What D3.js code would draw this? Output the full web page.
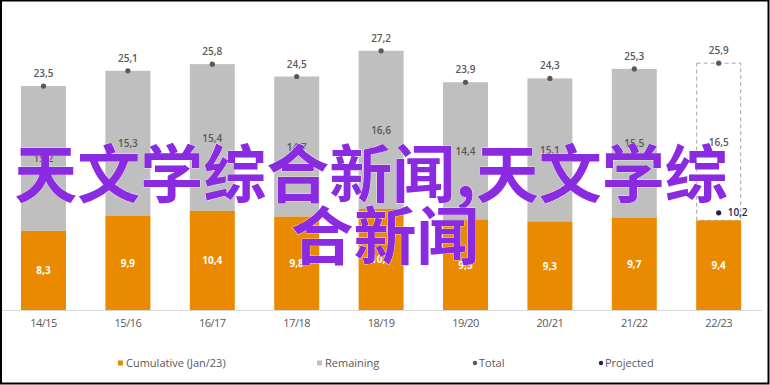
<!DOCTYPE html>
<html>
<head>
<meta charset="utf-8">
<style>
	body { margin: 0; background: #fff; }
	svg { display: block; }
	text { font-family: "Open Sans", sans-serif; }
</style>
</head>
<body>
<svg width="770" height="385"></svg>
<script src="https://cdn.jsdelivr.net/npm/d3@7/dist/d3.min.js"></script>
<script>

var seasons = ['14/15','15/16','16/17','17/18','18/19','19/20','20/21','21/22','22/23']
var cumulative = [8.3, 9.9, 10.4, 9.8, 10.6, 9.5, 9.3, 9.7, 9.4]
var remaining = [15.2, 15.3, 15.4, 14.7, 16.6, 14.4, 15.1, 15.5, 16.5]
var total = [23.5, 25.1, 25.8, 24.5, 27.2, 23.9, 24.3, 25.3, 25.9]
var projected = [null, null, null, null, null, null, null, null, 10.2]
var legendItems = ['Cumulative (Jan/23)', 'Remaining', 'Total', 'Projected']

var width = 770,
	height = 385,
	orange = '#ea8a00',
	grey = '#bfbfbf',
	dark = '#595959',
	navy = '#2a1a5e',
	purple = '#8a2be2'

var svg = d3.select('svg')

var x = d3.scaleBand()
	.domain(seasons)
	.range([1.3, 760.9])
	.paddingInner(0.467)
	.paddingOuter(0.2335)

var y = d3.scaleLinear()
	.domain([0, 30])
	.range([310, 24.1])

var fmt = function(v) { return d3.format('.1f')(v).replace('.', ',') }

var rows = seasons.map(function(s, i) {
	return {season: s, cum: cumulative[i], rem: remaining[i], tot: total[i], proj: projected[i], last: i == seasons.length - 1}
})

// grey / dashed remaining part
svg.selectAll('.rem')
	.data(rows)
	.enter().append('rect')
	.attr('class', 'rem')
	.attr('x', function(d) { return x(d.season) + (d.last ? 0.5 : 0) })
	.attr('width', function(d) { return x.bandwidth() - (d.last ? 1 : 0) })
	.attr('y', function(d) { return y(d.tot) })
	.attr('height', function(d) { return y(d.cum) - y(d.tot) })
	.style('fill', function(d) { return d.last ? '#fff' : grey })
	.style('stroke', function(d) { return d.last ? '#a6a6a6' : 'none' })
	.style('stroke-dasharray', '4,3')

// orange cumulative part
svg.selectAll('.cum')
	.data(rows)
	.enter().append('rect')
	.attr('class', 'cum')
	.attr('x', function(d) { return x(d.season) })
	.attr('width', x.bandwidth())
	.attr('y', function(d) { return y(d.cum) })
	.attr('height', function(d) { return y(0) - y(d.cum) })
	.style('fill', orange)

// axis
var xAxis = svg.append('g')
	.attr('transform', 'translate(0,' + y(0) + ')')
	.call(d3.axisBottom(x).tickSize(0).tickPadding(9))
xAxis.select('.domain').attr('d', 'M0,0.5H762').style('stroke', '#d9d9d9')
xAxis.selectAll('text')
	.style('font-family', '"Open Sans", sans-serif')
	.style('font-size', '11px')
	.style('fill', dark)
	.style('letter-spacing', '-0.5px')

// labels inside bars
svg.selectAll('.cumLabel')
	.data(rows)
	.enter().append('text')
	.attr('x', function(d) { return x(d.season) + x.bandwidth() / 2 })
	.attr('y', function(d) { return (y(0) + y(d.cum)) / 2 + 4 })
	.attr('text-anchor', 'middle')
	.style('font-size', '10px')
	.style('font-weight', 700)
	.style('fill', '#fff')
	.text(function(d) { return fmt(d.cum) })

svg.selectAll('.remLabel')
	.data(rows)
	.enter().append('text')
	.attr('x', function(d) { return x(d.season) + x.bandwidth() / 2 })
	.attr('y', function(d) { return (y(d.cum) + y(d.tot)) / 2 + 4 })
	.attr('text-anchor', 'middle')
	.style('font-size', '10px')
	.style('font-weight', 600)
	.style('fill', dark)
	.text(function(d) { return fmt(d.rem) })

// totals
svg.selectAll('.totDot')
	.data(rows)
	.enter().append('circle')
	.attr('cx', function(d) { return x(d.season) + x.bandwidth() / 2 })
	.attr('cy', function(d) { return y(d.tot) })
	.attr('r', 2.6)
	.style('fill', dark)

svg.selectAll('.totLabel')
	.data(rows)
	.enter().append('text')
	.attr('x', function(d) { return x(d.season) + x.bandwidth() / 2 })
	.attr('y', function(d) { return y(d.tot) - 9 })
	.attr('text-anchor', 'middle')
	.style('font-size', '10px')
	.style('font-weight', 600)
	.style('fill', dark)
	.text(function(d) { return fmt(d.tot) })

// projected
var proj = rows.filter(function(d) { return d.proj != null })
svg.selectAll('.projDot')
	.data(proj)
	.enter().append('circle')
	.attr('cx', function(d) { return x(d.season) + x.bandwidth() / 2 })
	.attr('cy', function(d) { return y(d.proj) })
	.attr('r', 2.6)
	.style('fill', navy)

svg.selectAll('.projLabel')
	.data(proj)
	.enter().append('text')
	.attr('x', function(d) { return x(d.season) + x.bandwidth() / 2 + 9 })
	.attr('y', function(d) { return y(d.proj) + 3.5 })
	.style('font-size', '10px')
	.style('font-weight', 600)
	.style('fill', navy)
	.text(function(d) { return fmt(d.proj) })

// legend
var legendX = [118, 317, 473, 599]
var legend = svg.selectAll('.legend')
	.data(legendItems)
	.enter().append('g')
	.attr('transform', function(d, i) { return 'translate(' + legendX[i] + ',363)' })

legend.each(function(d, i) {
	var g = d3.select(this)
	if (i < 2) {
		g.append('rect').attr('x', 0).attr('y', -2.5).attr('width', 5).attr('height', 5)
			.style('fill', [orange, grey][i])
	} else {
		g.append('circle').attr('cx', 2).attr('cy', 0).attr('r', 2.2)
			.style('fill', [dark, navy][i - 2])
	}
	g.append('text').attr('x', i < 2 ? 8 : 6).attr('y', 4)
		.style('font-size', '11px')
		.style('fill', dark)
		.text(d)
})

// overlay text
var overlay = svg.append('g')
	.style('font-size', '63px')
	.style('font-weight', 700)
	.style('fill', purple)
	.style('stroke', '#fff')
	.style('stroke-width', 0.6)
	.style('paint-order', 'stroke')
overlay.append('text').attr('x', 371).attr('y', 197).attr('text-anchor', 'middle')
	.style('font-family', '"Noto Sans CJK SC", sans-serif')
	.text('天文学综合新闻,天文学综')
overlay.append('text').attr('x', 385).attr('y', 259).attr('text-anchor', 'middle')
	.style('font-family', '"Noto Sans CJK SC", sans-serif')
	.text('合新闻')

// frame
svg.append('rect')
	.attr('x', 1).attr('y', 0.5)
	.attr('width', width - 2.5).attr('height', height - 2)
	.style('fill', 'none')
	.style('stroke', '#000')
	.style('stroke-width', 2)

</script>
</body>
</html>
